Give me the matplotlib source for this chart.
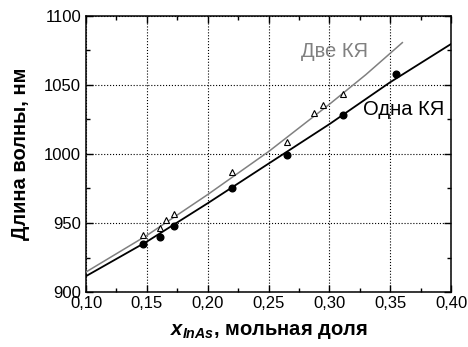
import matplotlib
matplotlib.use("Agg")
import matplotlib.pyplot as plt
from matplotlib.ticker import MultipleLocator, FuncFormatter

plt.rcParams['font.family'] = ['Liberation Sans', 'DejaVu Sans']
plt.rcParams['mathtext.fontset'] = 'custom'
plt.rcParams['mathtext.it'] = 'Liberation Sans:italic:bold'
plt.rcParams['mathtext.rm'] = 'Liberation Sans:bold'

# measured points: one quantum well (filled circles)
x_one = [0.147, 0.161, 0.172, 0.220, 0.265, 0.311, 0.355]
y_one = [935.0, 940.0, 947.8, 975.6, 999.5, 1028.0, 1058.3]

# measured points: two quantum wells (open triangles)
x_two = [0.147, 0.161, 0.166, 0.172, 0.220, 0.265, 0.287, 0.295, 0.311]
y_two = [941.3, 946.4, 952.2, 956.3, 987.0, 1008.7, 1029.7, 1035.5, 1043.5]

# fitted curves
fit_one_x = [0.10, 0.15, 0.20, 0.25, 0.30, 0.35, 0.40]
fit_one_y = [911.5, 936.5, 964.3, 993.0, 1021.6, 1052.0, 1079.7]
fit_two_x = [0.10, 0.15, 0.20, 0.25, 0.30, 0.33, 0.36]
fit_two_y = [914.5, 941.0, 970.6, 1001.7, 1036.0, 1057.5, 1080.7]

xticks = [0.10, 0.15, 0.20, 0.25, 0.30, 0.35, 0.40]
yticks = [900, 950, 1000, 1050, 1100]

fig = plt.figure(figsize=(4.68, 3.47), dpi=100)
ax = fig.add_axes([0.1838, 0.1585, 0.7799, 0.7954])

ax.plot(fit_two_x, fit_two_y, color='#808080', lw=1.1, zorder=3)
ax.plot(fit_one_x, fit_one_y, color='black', lw=1.3, zorder=3)
ax.plot(x_two, y_two, linestyle='none', marker='^', markersize=4.5,
        markerfacecolor='white', markeredgecolor='black', markeredgewidth=0.8, zorder=4)
ax.plot(x_one, y_one, linestyle='none', marker='o', markersize=4.8,
        color='black', zorder=4)

ax.text(0.277, 1074, 'Две КЯ', color='#808080', fontsize=14.5, va='center', ha='left')
ax.text(0.3275, 1032, 'Одна КЯ', color='black', fontsize=14.5, va='center', ha='left')

ax.set_xlim(0.10, 0.40)
ax.set_ylim(900, 1100)
ax.set_xticks(xticks)
ax.set_yticks(yticks)
ax.xaxis.set_minor_locator(MultipleLocator(0.025))
ax.yaxis.set_minor_locator(MultipleLocator(25))
ax.xaxis.set_major_formatter(FuncFormatter(lambda v, p: f'{v:.2f}'.replace('.', ',')))
ax.yaxis.set_major_formatter(FuncFormatter(lambda v, p: f'{v:.0f}'))

ax.tick_params(which='both', direction='in', top=True, right=True, labelsize=12, width=1.0)
ax.tick_params(which='major', length=5)
ax.tick_params(which='minor', length=3)
ax.tick_params(axis='x', pad=3)
ax.grid(which='major', linestyle=':', color='black', linewidth=0.8)

for s in ax.spines.values():
    s.set_linewidth(1.1)

ax.set_ylabel('Длина волны, нм', fontsize=14.5, fontweight='bold', labelpad=10)
ax.set_xlabel(r'$x_{InAs}$, мольная доля', fontsize=14.5, fontweight='bold', labelpad=8)

fig.savefig('out.png', dpi=100)
